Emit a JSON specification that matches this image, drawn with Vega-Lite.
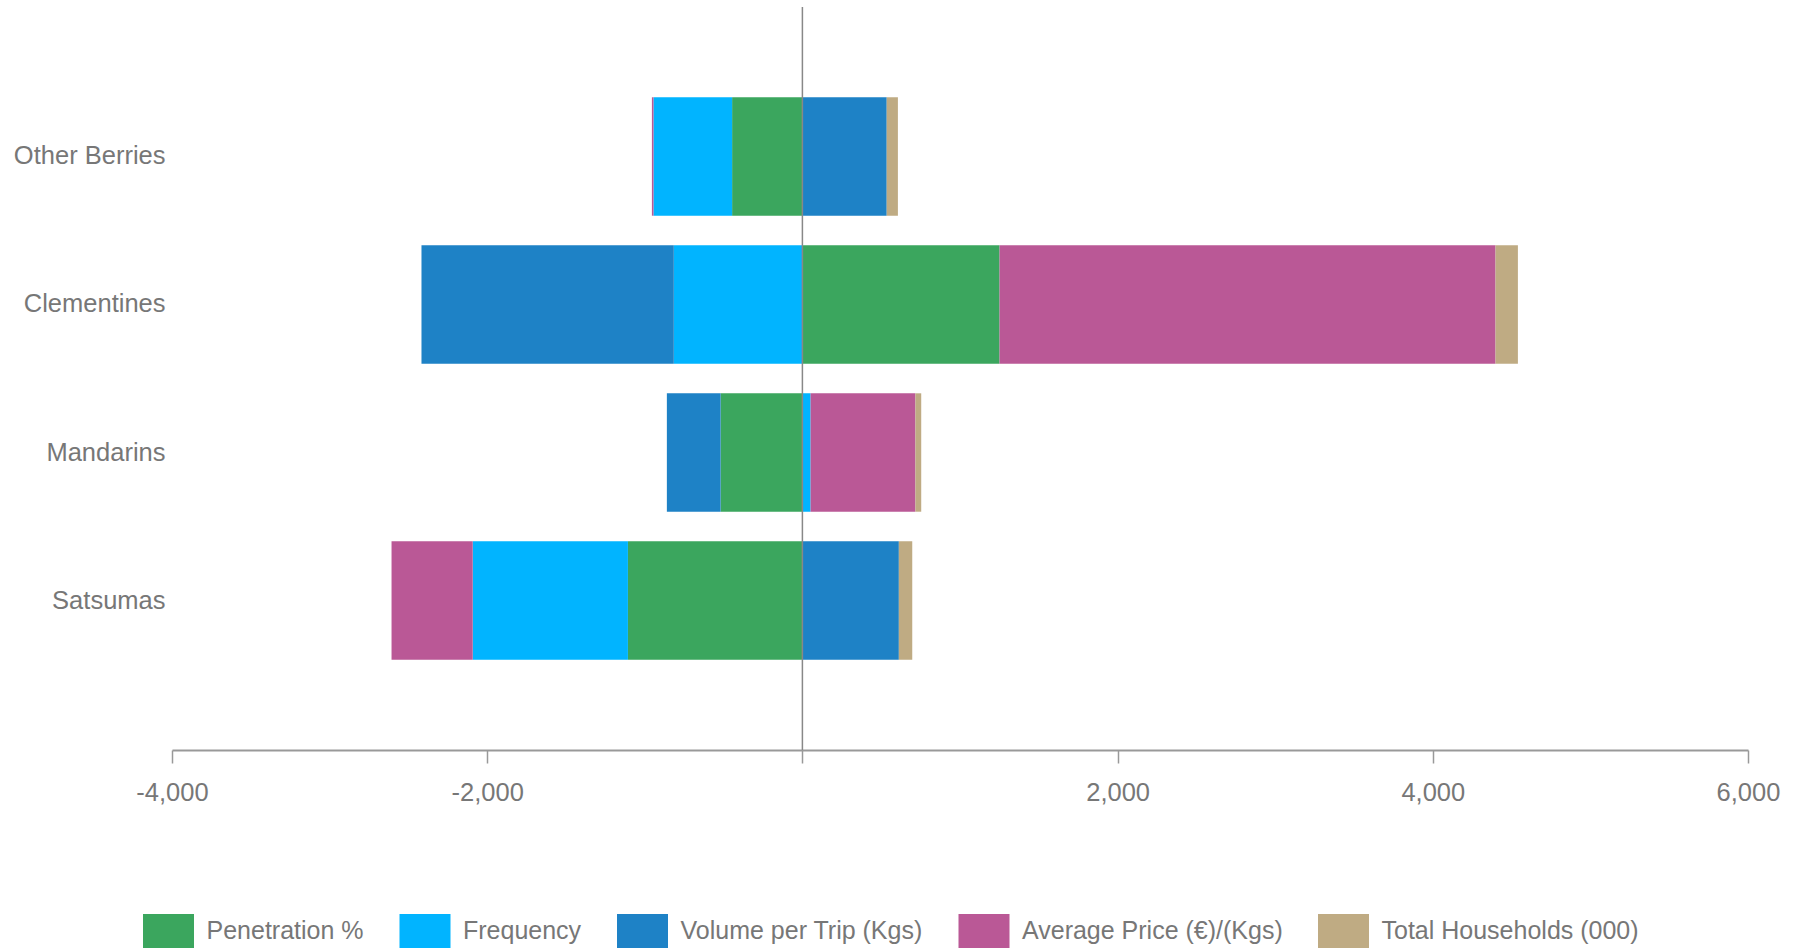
{
  "$schema": "https://vega.github.io/schema/vega-lite/v6.json",
  "width": 1576,
  "height": 743,
  "autosize": {"type": "none"},
  "padding": {"left": 172, "top": 7, "right": 50, "bottom": 199},
  "background": "white",
  "config": {
    "view": {"stroke": null},
    "font": "Liberation Sans, Arial, sans-serif"
  },
  "layer": [
    {
      "data": {
        "values": [
          {"product": "Other Berries", "measure": "Penetration %", "seq": 1, "value": -446},
          {"product": "Other Berries", "measure": "Frequency", "seq": 2, "value": -499},
          {"product": "Other Berries", "measure": "Volume per Trip (Kgs)", "seq": 3, "value": 535},
          {"product": "Other Berries", "measure": "Average Price (€)/(Kgs)", "seq": 4, "value": -10},
          {"product": "Other Berries", "measure": "Total Households (000)", "seq": 5, "value": 71},
          {"product": "Clementines", "measure": "Penetration %", "seq": 1, "value": 1251},
          {"product": "Clementines", "measure": "Frequency", "seq": 2, "value": -816},
          {"product": "Clementines", "measure": "Volume per Trip (Kgs)", "seq": 3, "value": -1601},
          {"product": "Clementines", "measure": "Average Price (€)/(Kgs)", "seq": 4, "value": 3147},
          {"product": "Clementines", "measure": "Total Households (000)", "seq": 5, "value": 142},
          {"product": "Mandarins", "measure": "Penetration %", "seq": 1, "value": -519},
          {"product": "Mandarins", "measure": "Frequency", "seq": 2, "value": 52},
          {"product": "Mandarins", "measure": "Volume per Trip (Kgs)", "seq": 3, "value": -341},
          {"product": "Mandarins", "measure": "Average Price (€)/(Kgs)", "seq": 4, "value": 665},
          {"product": "Mandarins", "measure": "Total Households (000)", "seq": 5, "value": 37},
          {"product": "Satsumas", "measure": "Penetration %", "seq": 1, "value": -1107},
          {"product": "Satsumas", "measure": "Frequency", "seq": 2, "value": -985},
          {"product": "Satsumas", "measure": "Volume per Trip (Kgs)", "seq": 3, "value": 612},
          {"product": "Satsumas", "measure": "Average Price (€)/(Kgs)", "seq": 4, "value": -515},
          {"product": "Satsumas", "measure": "Total Households (000)", "seq": 5, "value": 85}
        ]
      },
      "mark": {"type": "bar"},
      "encoding": {
        "y": {
          "field": "product",
          "type": "nominal",
          "sort": ["Other Berries", "Clementines", "Mandarins", "Satsumas"],
          "scale": {"paddingInner": 0.2, "paddingOuter": 0.61},
          "axis": {
            "title": null,
            "domain": false,
            "ticks": false,
            "tickSize": 0,
            "labelPadding": 7,
            "labelColor": "#777777",
            "labelFontSize": 25.5,
            "labelLimit": 300
          }
        },
        "x": {
          "field": "value",
          "type": "quantitative",
          "stack": "zero",
          "scale": {"domain": [-4000, 6000], "nice": false},
          "axis": {
            "title": null,
            "grid": false,
            "values": [-4000, -2000, 0, 2000, 4000, 6000],
            "labelExpr": "datum.value === 0 ? '' : (datum.value < 0 ? '-' : '') + format(abs(datum.value), ',d')",
            "labelFlush": false,
            "labelOverlap": false,
            "domainColor": "#999999",
            "domainWidth": 2,
            "tickColor": "#999999",
            "tickWidth": 1.5,
            "tickSize": 13,
            "labelPadding": 17,
            "labelColor": "#777777",
            "labelFontSize": 25.5
          }
        },
        "color": {
          "field": "measure",
          "type": "nominal",
          "scale": {
            "domain": ["Penetration %", "Frequency", "Volume per Trip (Kgs)", "Average Price (€)/(Kgs)", "Total Households (000)"],
            "range": ["#3BA65E", "#01B4FF", "#1E82C6", "#BA5896", "#BFAB83"]
          },
          "legend": {
            "title": null,
            "orient": "none",
            "legendX": -20.5,
            "legendY": 907,
            "direction": "horizontal",
            "columns": 5,
            "padding": 0,
            "symbolType": "M-1.5,-1H1.5V1H-1.5Z",
            "symbolSize": 1156,
            "symbolStrokeWidth": 0,
            "symbolOpacity": 1,
            "labelFontSize": 25,
            "labelColor": "#777777",
            "labelOffset": 21,
            "columnPadding": 34.5,
            "labelLimit": 400
          }
        },
        "order": {"field": "seq", "type": "quantitative"}
      }
    },
    {
      "data": {"values": [{"base": 0}]},
      "mark": {"type": "rule", "color": "#888888", "strokeWidth": 1.5},
      "encoding": {
        "x": {"field": "base", "type": "quantitative", "title": null}
      }
    }
  ]
}
